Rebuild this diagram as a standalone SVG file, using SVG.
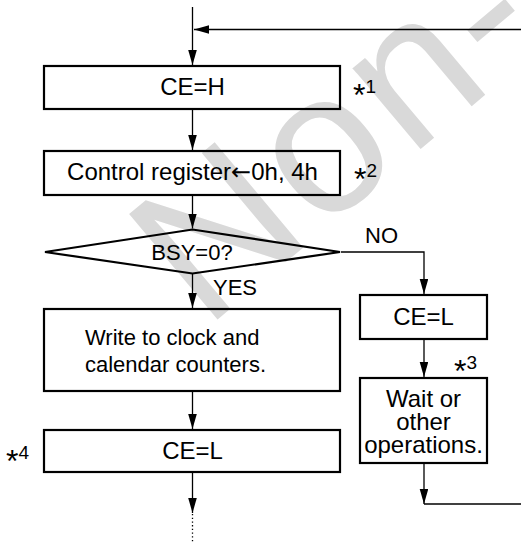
<svg xmlns="http://www.w3.org/2000/svg" width="521" height="543" viewBox="0 0 521 543">
<style>
  .box { fill: none; stroke: #000; stroke-width: 2.2; }
  .t { font-family: "Liberation Sans", Arial, Helvetica, sans-serif; fill: #000; }
  .big { font-size: 24px; }
  .mid { font-size: 22px; }
  .note { font-size: 19px; }
  .star { font-size: 32px; }
  .arr { font-family: "DejaVu Sans", sans-serif; font-size: 24px; }
  .c { text-anchor: middle; }
  .ln { fill: none; stroke: #000; stroke-width: 1.3; }
  .dot { fill: none; stroke: #000; stroke-width: 1.3; stroke-dasharray: 1.3 2.4; }
  .wm { font-family: "Liberation Sans", Arial, sans-serif; font-size: 200px; fill: #d9d9d9; letter-spacing: 6px; }
</style>
<defs>
  <marker id="ah" markerUnits="userSpaceOnUse" markerWidth="16" markerHeight="10" refX="15" refY="4.3" orient="auto">
    <path d="M0,0 L15,4.3 L0,8.6 z" fill="#000"/>
  </marker>
</defs>
<rect width="521" height="543" fill="#fff"/>
<text class="wm" transform="translate(205,330) rotate(-40)">Non-</text>

<g id="connectors">
  <path class="ln" d="M192.5,7 V65" marker-end="url(#ah)"/>
  <path class="ln" d="M521,29.5 H194" marker-end="url(#ah)"/>
  <path class="ln" d="M192.5,110 V150" marker-end="url(#ah)"/>
  <path class="ln" d="M192.5,196 V228.5" marker-end="url(#ah)"/>
  <path class="ln" d="M192.5,274 V308" marker-end="url(#ah)"/>
  <path class="ln" d="M192.5,392 V429" marker-end="url(#ah)"/>
  <path class="ln" d="M192.5,473 V513" marker-end="url(#ah)"/>
  <path class="dot" d="M192.5,514 V543"/>
  <path class="ln" d="M341,252 H424 V294" marker-end="url(#ah)"/>
  <path class="ln" d="M424,340 V377" marker-end="url(#ah)"/>
  <path class="ln" d="M424,464 V504" marker-end="url(#ah)"/>
  <path class="ln" d="M424,504 H521"/>
  <text class="t mid" x="365" y="243">NO</text>
  <text class="t mid" x="213" y="295">YES</text>
</g>

<g id="ce-h">
  <rect class="box" x="44" y="66" width="296" height="43"/>
  <text class="t big c" x="192.5" y="94.5">CE=H</text>
  <text class="t note" x="353" y="93"><tspan class="star" dy="13">*</tspan><tspan dy="-13">1</tspan></text>
</g>

<g id="control-register">
  <rect class="box" x="44" y="151" width="296" height="44"/>
  <text class="t big c" x="192.5" y="180">Control register<tspan class="arr">←</tspan>0h, 4h</text>
  <text class="t note" x="354" y="177"><tspan class="star" dy="13">*</tspan><tspan dy="-13">2</tspan></text>
</g>

<g id="bsy-check">
  <polygon class="box" points="45,252 192.5,229.5 340,252 192.5,273.5"/>
  <text class="t mid c" x="192" y="260">BSY=0?</text>
</g>

<g id="write-counters">
  <rect class="box" x="44" y="309" width="296" height="82"/>
  <text class="t mid" x="85" y="345">Write to clock and</text>
  <text class="t mid" x="85" y="372">calendar counters.</text>
</g>

<g id="ce-l-end">
  <rect class="box" x="44" y="430" width="296" height="42"/>
  <text class="t big c" x="192.5" y="459">CE=L</text>
  <text class="t note" x="6" y="459"><tspan class="star" dy="13">*</tspan><tspan dy="-13">4</tspan></text>
</g>

<g id="ce-l-busy">
  <rect class="box" x="360" y="295" width="127" height="44"/>
  <text class="t big c" x="423.5" y="325">CE=L</text>
</g>

<g id="wait">
  <rect class="box" x="360" y="378" width="127" height="85"/>
  <text class="t big c" x="423.5" y="407">Wait or</text>
  <text class="t big c" x="423.5" y="430">other</text>
  <text class="t big c" x="423.5" y="453">operations.</text>
  <text class="t note" x="454" y="369"><tspan class="star" dy="13">*</tspan><tspan dy="-13">3</tspan></text>
</g>
</svg>
